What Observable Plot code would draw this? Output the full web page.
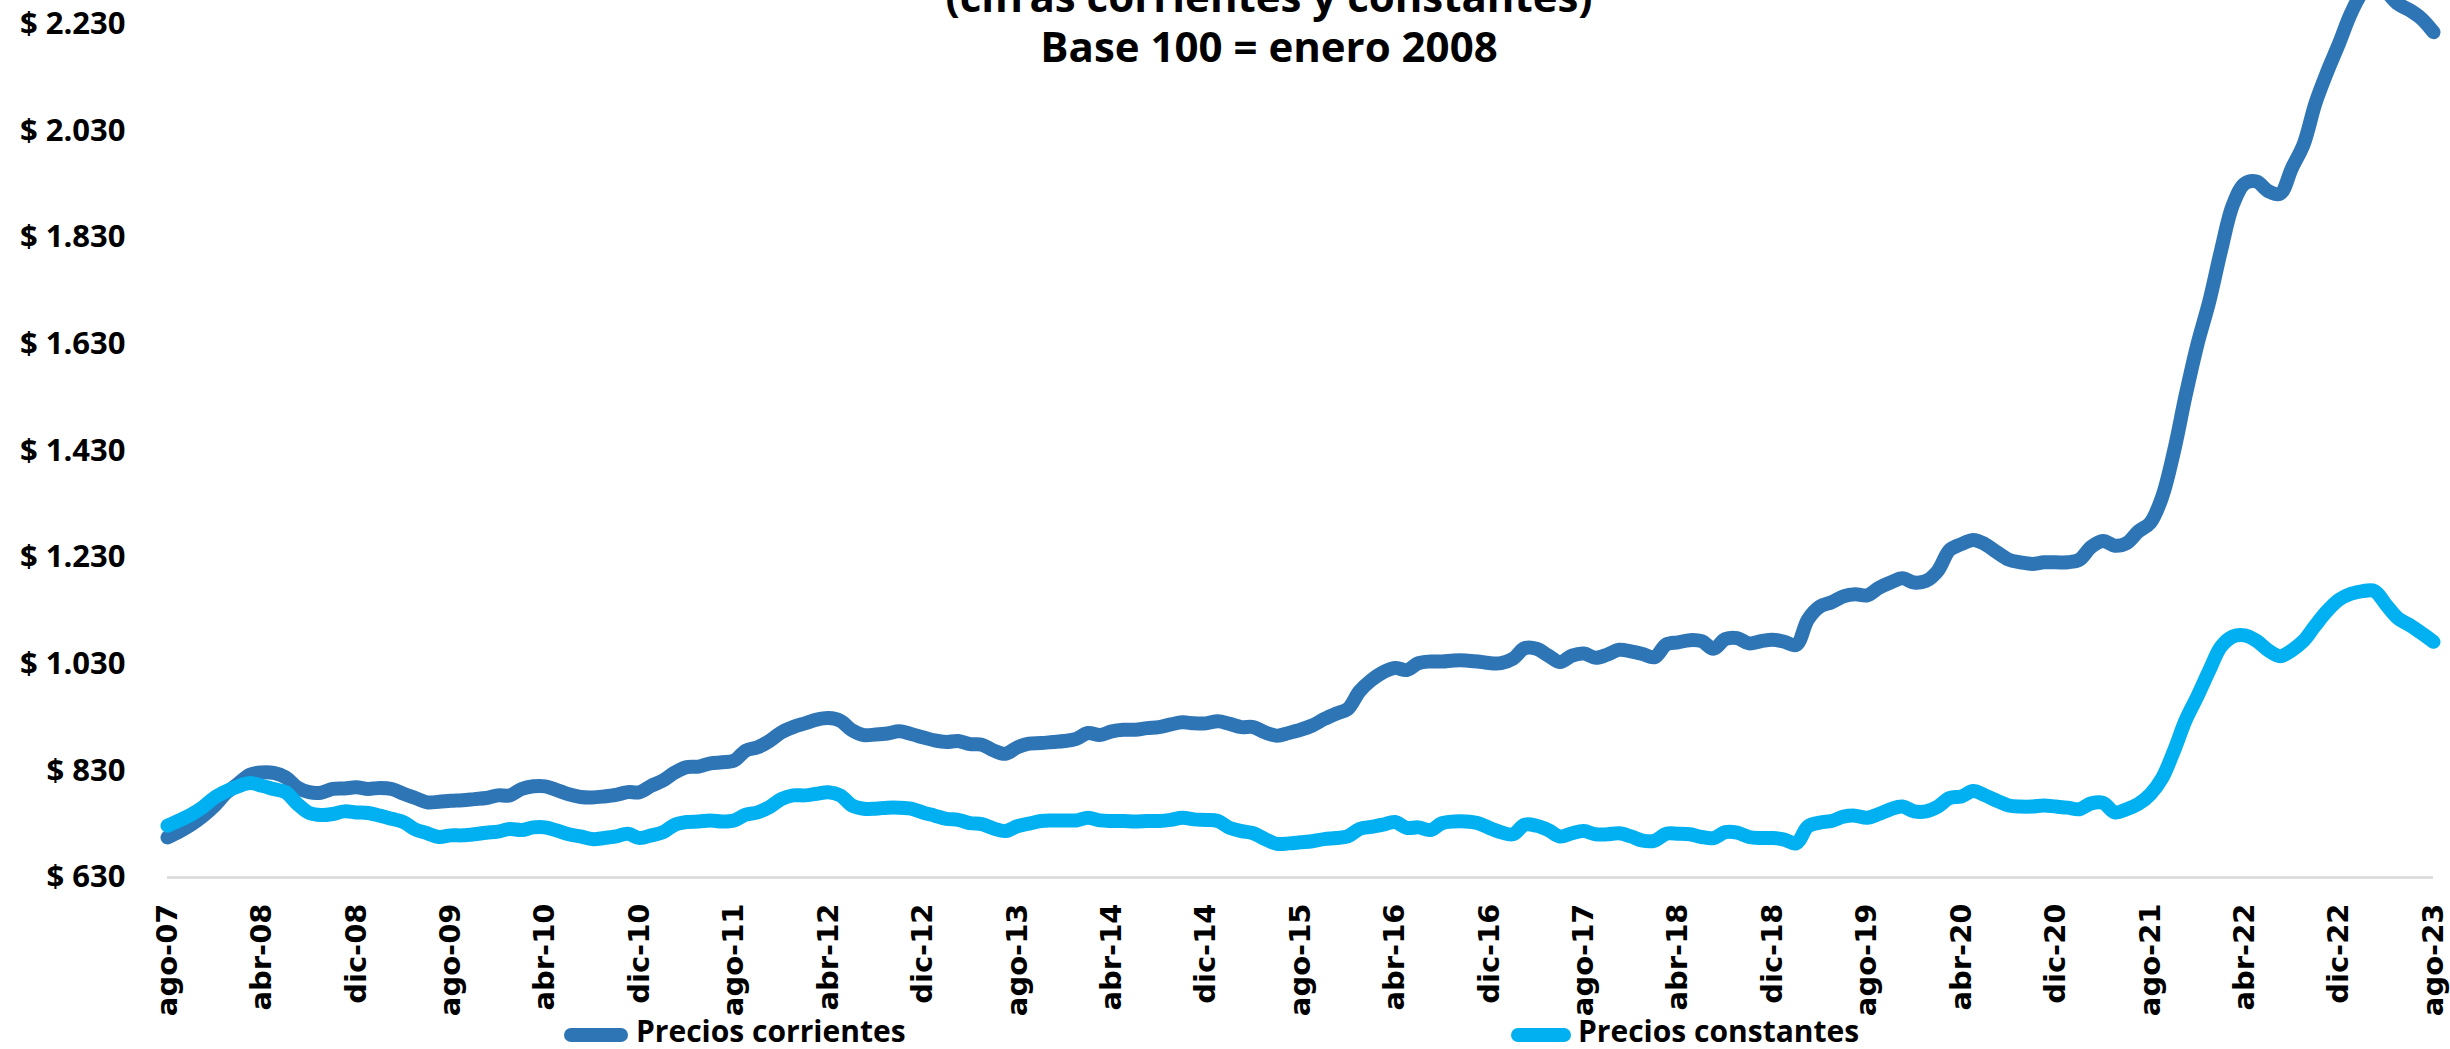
<!DOCTYPE html>
<html><head><meta charset="utf-8">
<script src="https://cdn.jsdelivr.net/npm/d3@7"></script>
<script src="https://cdn.jsdelivr.net/npm/@observablehq/plot@0.6"></script>
<style>
html,body{margin:0;padding:0;background:#fff;}
#wrap{position:relative;width:2450px;height:1049px;overflow:hidden;font-family:"Open Sans",sans-serif;background:#fff;}
#chart{position:absolute;left:0;top:-100px;}
.title{position:absolute;left:1269px;top:-29px;transform:translateX(-50%);white-space:nowrap;font-weight:700;font-size:42px;line-height:50px;text-align:center;color:#000;}
.leg{position:absolute;top:1016px;font-weight:700;font-size:30px;line-height:30px;color:#000;white-space:nowrap;}
.sw{position:absolute;top:1028px;height:14px;border-radius:7px;}
</style></head><body>
<div id="wrap">
  <div id="chart"></div>
  <div class="title">(cifras corrientes y constantes)<br>Base 100 = enero 2008</div>
  <div class="sw" style="left:564px;width:64px;background:#2E75B6"></div>
  <div class="leg" style="left:636px">Precios corrientes</div>
  <div class="sw" style="left:1511px;width:60px;background:#00B0F0"></div>
  <div class="leg" style="left:1578px">Precios constantes</div>
</div>
<script>
// Monthly values, ago-07 .. ago-23 (193 months)
const corrientes = [705,716,729,745,765,789,806,823,827,826,818,799,790,789,796,797,799,796,798,796,787,779,771,772,774,775,777,779,784,784,796,801,801,794,786,781,780,782,785,790,790,802,812,827,837,838,844,846,849,868,874,886,902,912,919,926,929,924,906,897,898,900,904,899,893,887,884,886,880,879,868,862,874,881,882,884,886,890,901,897,904,907,907,910,912,917,921,919,919,923,918,912,912,902,896,901,907,915,927,937,946,979,1000,1015,1023,1019,1032,1035,1035,1037,1037,1035,1032,1032,1040,1060,1059,1046,1034,1046,1050,1042,1048,1057,1054,1049,1043,1067,1071,1075,1073,1059,1077,1079,1069,1073,1076,1072,1066,1114,1138,1146,1157,1161,1159,1173,1183,1191,1183,1186,1205,1244,1255,1263,1255,1240,1226,1221,1218,1221,1221,1221,1226,1250,1261,1252,1257,1279,1295,1343,1428,1534,1630,1710,1806,1891,1931,1935,1917,1912,1960,2005,2082,2141,2194,2250,2290,2305,2290,2268,2256,2240,2215];
const constantes = [727,737,748,762,780,792,801,807,802,796,790,768,751,747,749,754,752,751,746,740,734,720,713,706,709,709,711,714,716,721,719,724,724,718,711,707,702,704,707,712,704,709,715,729,734,735,737,735,737,748,752,762,777,784,784,787,790,784,765,759,759,761,761,759,752,746,740,738,732,730,722,717,726,731,736,737,737,737,742,737,736,736,735,736,736,738,742,739,738,736,723,717,713,702,693,694,696,698,702,704,707,721,725,729,734,723,724,719,732,735,735,732,723,715,711,729,727,719,707,713,717,711,711,713,707,699,699,712,712,711,706,704,715,714,706,704,704,701,694,726,733,736,744,746,742,749,758,763,754,754,763,779,782,792,784,774,765,763,763,765,763,761,758,769,770,752,758,768,786,816,867,925,970,1018,1063,1082,1084,1074,1056,1045,1056,1074,1103,1130,1151,1162,1167,1167,1141,1116,1103,1088,1072];
const tickLabels = ["ago-07","abr-08","dic-08","ago-09","abr-10","dic-10","ago-11","abr-12","dic-12","ago-13","abr-14","dic-14","ago-15","abr-16","dic-16","ago-17","abr-18","dic-18","ago-19","abr-20","dic-20","ago-21","abr-22","dic-22","ago-23"];
const yTicks = [630,830,1030,1230,1430,1630,1830,2030,2230];

const serieC = corrientes.map((v,i) => ({m:i, v}));
const serieK = constantes.map((v,i) => ({m:i, v}));
const tickPos = tickLabels.map((_,i) => i*8);
const fmtY = d => "$ " + d3.format(",")(d).replace(/,/g, ".");

const chart = Plot.plot({
  width: 2450,
  height: 1160,
  marginLeft: 167,
  marginRight: 17,
  marginTop: 17,
  marginBottom: 183,
  style: {background: "transparent", overflow: "visible"},
  x: {type: "linear", domain: [0, 192]},
  y: {domain: [630, 2430]},
  marks: [
    Plot.ruleY([630], {stroke: "#D9D9D9", strokeWidth: 2.5}),
    Plot.axisY({ticks: yTicks, tickFormat: fmtY, tickSize: 0, tickPadding: 42, label: null,
      fontFamily: "Open Sans", fontWeight: 700, fontSize: 31, fill: "#000"}),
    Plot.axisX({ticks: tickPos, tickFormat: d => tickLabels[d/8], tickSize: 0, tickPadding: 26, tickRotate: -90, label: null,
      fontFamily: "DejaVu Sans", fontWeight: 700, fontSize: 29, fill: "#000"}),
    Plot.line(serieC, {x: "m", y: "v", stroke: "#2E75B6", strokeWidth: 14, curve: "catmull-rom", strokeLinecap: "round", strokeLinejoin: "round"}),
    Plot.line(serieK, {x: "m", y: "v", stroke: "#00B0F0", strokeWidth: 14, curve: "catmull-rom", strokeLinecap: "round", strokeLinejoin: "round"})
  ]
});
document.getElementById("chart").appendChild(chart);
</script>
</body></html>
